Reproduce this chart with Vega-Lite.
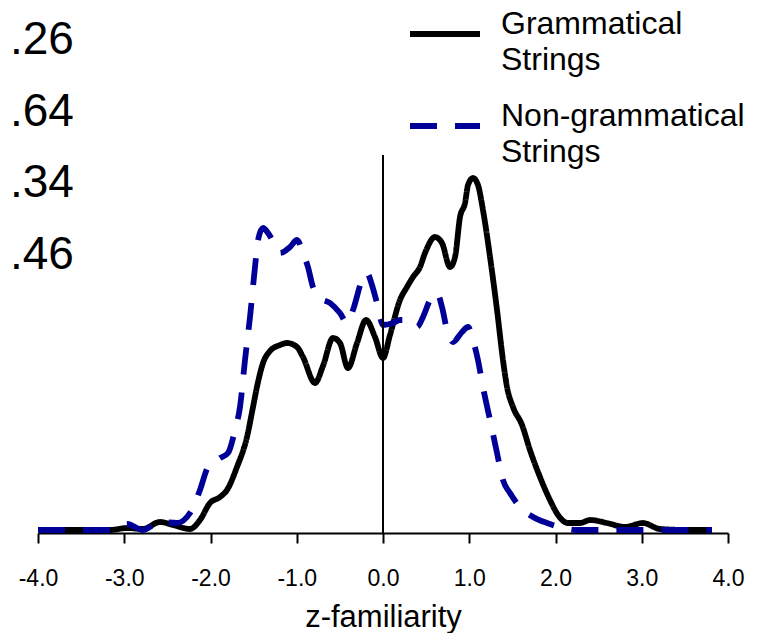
{
  "$schema": "https://vega.github.io/schema/vega-lite/v6.json",
  "width": 690,
  "height": 533,
  "autosize": {"type": "none"},
  "padding": {"left": 38, "top": 0, "right": 31, "bottom": 100},
  "background": "white",
  "config": {"view": {"stroke": null}, "font": "Liberation Sans"},
  "layer": [
    {
      "data": {
        "values": [
          {"series": "Grammatical Strings", "z": -4.0, "density": 0.0},
          {"series": "Grammatical Strings", "z": -3.745, "density": 0.0},
          {"series": "Grammatical Strings", "z": -3.397, "density": 0.0},
          {"series": "Grammatical Strings", "z": -3.165, "density": 0.0},
          {"series": "Grammatical Strings", "z": -2.968, "density": 0.02},
          {"series": "Grammatical Strings", "z": -2.783, "density": 0.01},
          {"series": "Grammatical Strings", "z": -2.586, "density": 0.08},
          {"series": "Grammatical Strings", "z": -2.435, "density": 0.05},
          {"series": "Grammatical Strings", "z": -2.238, "density": 0.01},
          {"series": "Grammatical Strings", "z": -2.122, "density": 0.1},
          {"series": "Grammatical Strings", "z": -2.006, "density": 0.27},
          {"series": "Grammatical Strings", "z": -1.89, "density": 0.33},
          {"series": "Grammatical Strings", "z": -1.809, "density": 0.4},
          {"series": "Grammatical Strings", "z": -1.693, "density": 0.63},
          {"series": "Grammatical Strings", "z": -1.577, "density": 0.93},
          {"series": "Grammatical Strings", "z": -1.507, "density": 1.23},
          {"series": "Grammatical Strings", "z": -1.449, "density": 1.48},
          {"series": "Grammatical Strings", "z": -1.391, "density": 1.67},
          {"series": "Grammatical Strings", "z": -1.31, "density": 1.79},
          {"series": "Grammatical Strings", "z": -1.194, "density": 1.85},
          {"series": "Grammatical Strings", "z": -1.113, "density": 1.87},
          {"series": "Grammatical Strings", "z": -0.997, "density": 1.83},
          {"series": "Grammatical Strings", "z": -0.928, "density": 1.73},
          {"series": "Grammatical Strings", "z": -0.788, "density": 1.47},
          {"series": "Grammatical Strings", "z": -0.696, "density": 1.64},
          {"series": "Grammatical Strings", "z": -0.58, "density": 1.92},
          {"series": "Grammatical Strings", "z": -0.499, "density": 1.87},
          {"series": "Grammatical Strings", "z": -0.406, "density": 1.62},
          {"series": "Grammatical Strings", "z": -0.301, "density": 1.87},
          {"series": "Grammatical Strings", "z": -0.197, "density": 2.1},
          {"series": "Grammatical Strings", "z": -0.093, "density": 1.93},
          {"series": "Grammatical Strings", "z": 0.0, "density": 1.72},
          {"series": "Grammatical Strings", "z": 0.081, "density": 1.95},
          {"series": "Grammatical Strings", "z": 0.197, "density": 2.3},
          {"series": "Grammatical Strings", "z": 0.278, "density": 2.43},
          {"series": "Grammatical Strings", "z": 0.348, "density": 2.53},
          {"series": "Grammatical Strings", "z": 0.429, "density": 2.63},
          {"series": "Grammatical Strings", "z": 0.487, "density": 2.77},
          {"series": "Grammatical Strings", "z": 0.603, "density": 2.93},
          {"series": "Grammatical Strings", "z": 0.684, "density": 2.87},
          {"series": "Grammatical Strings", "z": 0.777, "density": 2.63},
          {"series": "Grammatical Strings", "z": 0.835, "density": 2.73},
          {"series": "Grammatical Strings", "z": 0.893, "density": 3.13},
          {"series": "Grammatical Strings", "z": 0.951, "density": 3.27},
          {"series": "Grammatical Strings", "z": 0.986, "density": 3.45},
          {"series": "Grammatical Strings", "z": 1.043, "density": 3.52},
          {"series": "Grammatical Strings", "z": 1.101, "density": 3.45},
          {"series": "Grammatical Strings", "z": 1.159, "density": 3.2},
          {"series": "Grammatical Strings", "z": 1.241, "density": 2.73},
          {"series": "Grammatical Strings", "z": 1.322, "density": 2.2},
          {"series": "Grammatical Strings", "z": 1.391, "density": 1.7},
          {"series": "Grammatical Strings", "z": 1.438, "density": 1.43},
          {"series": "Grammatical Strings", "z": 1.507, "density": 1.23},
          {"series": "Grammatical Strings", "z": 1.612, "density": 1.05},
          {"series": "Grammatical Strings", "z": 1.704, "density": 0.8},
          {"series": "Grammatical Strings", "z": 1.82, "density": 0.53},
          {"series": "Grammatical Strings", "z": 1.936, "density": 0.3},
          {"series": "Grammatical Strings", "z": 2.029, "density": 0.15},
          {"series": "Grammatical Strings", "z": 2.145, "density": 0.07},
          {"series": "Grammatical Strings", "z": 2.284, "density": 0.07},
          {"series": "Grammatical Strings", "z": 2.4, "density": 0.1},
          {"series": "Grammatical Strings", "z": 2.597, "density": 0.07},
          {"series": "Grammatical Strings", "z": 2.806, "density": 0.03},
          {"series": "Grammatical Strings", "z": 3.014, "density": 0.07},
          {"series": "Grammatical Strings", "z": 3.212, "density": 0.01},
          {"series": "Grammatical Strings", "z": 3.559, "density": 0.0},
          {"series": "Grammatical Strings", "z": 3.814, "density": 0.0},
          {"series": "Non-grammatical Strings", "z": -4.0, "density": 0.0},
          {"series": "Non-grammatical Strings", "z": -3.165, "density": 0.0},
          {"series": "Non-grammatical Strings", "z": -2.968, "density": 0.06},
          {"series": "Non-grammatical Strings", "z": -2.783, "density": 0.0},
          {"series": "Non-grammatical Strings", "z": -2.586, "density": 0.08},
          {"series": "Non-grammatical Strings", "z": -2.388, "density": 0.07},
          {"series": "Non-grammatical Strings", "z": -2.238, "density": 0.17},
          {"series": "Non-grammatical Strings", "z": -2.122, "density": 0.4},
          {"series": "Non-grammatical Strings", "z": -2.029, "density": 0.63},
          {"series": "Non-grammatical Strings", "z": -1.89, "density": 0.72},
          {"series": "Non-grammatical Strings", "z": -1.797, "density": 0.77},
          {"series": "Non-grammatical Strings", "z": -1.716, "density": 1.0},
          {"series": "Non-grammatical Strings", "z": -1.658, "density": 1.23},
          {"series": "Non-grammatical Strings", "z": -1.6, "density": 1.7},
          {"series": "Non-grammatical Strings", "z": -1.542, "density": 2.13},
          {"series": "Non-grammatical Strings", "z": -1.484, "density": 2.63},
          {"series": "Non-grammatical Strings", "z": -1.449, "density": 2.9},
          {"series": "Non-grammatical Strings", "z": -1.391, "density": 3.02},
          {"series": "Non-grammatical Strings", "z": -1.333, "density": 2.97},
          {"series": "Non-grammatical Strings", "z": -1.252, "density": 2.85},
          {"series": "Non-grammatical Strings", "z": -1.194, "density": 2.77},
          {"series": "Non-grammatical Strings", "z": -1.078, "density": 2.83},
          {"series": "Non-grammatical Strings", "z": -0.997, "density": 2.9},
          {"series": "Non-grammatical Strings", "z": -0.928, "density": 2.77},
          {"series": "Non-grammatical Strings", "z": -0.87, "density": 2.63},
          {"series": "Non-grammatical Strings", "z": -0.812, "density": 2.43},
          {"series": "Non-grammatical Strings", "z": -0.73, "density": 2.32},
          {"series": "Non-grammatical Strings", "z": -0.614, "density": 2.27},
          {"series": "Non-grammatical Strings", "z": -0.499, "density": 2.17},
          {"series": "Non-grammatical Strings", "z": -0.417, "density": 2.07},
          {"series": "Non-grammatical Strings", "z": -0.348, "density": 2.2},
          {"series": "Non-grammatical Strings", "z": -0.243, "density": 2.5},
          {"series": "Non-grammatical Strings", "z": -0.186, "density": 2.57},
          {"series": "Non-grammatical Strings", "z": -0.128, "density": 2.45},
          {"series": "Non-grammatical Strings", "z": -0.07, "density": 2.27},
          {"series": "Non-grammatical Strings", "z": 0.0, "density": 2.05},
          {"series": "Non-grammatical Strings", "z": 0.116, "density": 2.07},
          {"series": "Non-grammatical Strings", "z": 0.197, "density": 2.1},
          {"series": "Non-grammatical Strings", "z": 0.278, "density": 2.1},
          {"series": "Non-grammatical Strings", "z": 0.394, "density": 2.03},
          {"series": "Non-grammatical Strings", "z": 0.464, "density": 2.13},
          {"series": "Non-grammatical Strings", "z": 0.545, "density": 2.3},
          {"series": "Non-grammatical Strings", "z": 0.626, "density": 2.37},
          {"series": "Non-grammatical Strings", "z": 0.684, "density": 2.23},
          {"series": "Non-grammatical Strings", "z": 0.742, "density": 2.0},
          {"series": "Non-grammatical Strings", "z": 0.812, "density": 1.88},
          {"series": "Non-grammatical Strings", "z": 0.916, "density": 1.98},
          {"series": "Non-grammatical Strings", "z": 0.986, "density": 2.03},
          {"series": "Non-grammatical Strings", "z": 1.043, "density": 1.9},
          {"series": "Non-grammatical Strings", "z": 1.101, "density": 1.7},
          {"series": "Non-grammatical Strings", "z": 1.159, "density": 1.43},
          {"series": "Non-grammatical Strings", "z": 1.241, "density": 1.1},
          {"series": "Non-grammatical Strings", "z": 1.322, "density": 0.77},
          {"series": "Non-grammatical Strings", "z": 1.391, "density": 0.5},
          {"series": "Non-grammatical Strings", "z": 1.472, "density": 0.37},
          {"series": "Non-grammatical Strings", "z": 1.588, "density": 0.23},
          {"series": "Non-grammatical Strings", "z": 1.739, "density": 0.13},
          {"series": "Non-grammatical Strings", "z": 1.901, "density": 0.07},
          {"series": "Non-grammatical Strings", "z": 2.087, "density": 0.02},
          {"series": "Non-grammatical Strings", "z": 2.249, "density": 0.0},
          {"series": "Non-grammatical Strings", "z": 3.096, "density": 0.0},
          {"series": "Non-grammatical Strings", "z": 3.814, "density": 0.0}
        ]
      },
      "mark": {"type": "line", "interpolate": "monotone", "strokeWidth": 5.8},
      "encoding": {
        "x": {
          "field": "z",
          "type": "quantitative",
          "scale": {"domain": [-4, 4], "nice": false, "zero": false},
          "axis": {
            "values": [-4, -3, -2, -1, 0, 1, 2, 3, 4],
            "labelExpr": "(datum.value < 0 ? '-' : '') + format(abs(datum.value), '.1f')",
            "title": "z-familiarity",
            "grid": false,
            "domainColor": "black",
            "domainWidth": 2,
            "tickColor": "black",
            "tickWidth": 2,
            "tickSize": 10,
            "labelFont": "Liberation Sans",
            "labelFontSize": 23,
            "labelColor": "black",
            "labelPadding": 24,
            "labelFlush": false,
            "labelOverlap": false,
            "titleFont": "Liberation Sans",
            "titleFontSize": 31,
            "titleFontWeight": "normal",
            "titleColor": "black",
            "titlePadding": 12
          }
        },
        "y": {
          "field": "density",
          "type": "quantitative",
          "scale": {"domain": [-0.03, 5.3], "nice": false, "zero": false},
          "axis": null
        },
        "color": {
          "field": "series",
          "type": "nominal",
          "scale": {"domain": ["Grammatical Strings", "Non-grammatical Strings"], "range": ["#000000", "#000099"]},
          "legend": {
            "orient": "none",
            "legendX": 369,
            "legendY": -4,
            "title": null,
            "direction": "vertical",
            "symbolType": "stroke",
            "symbolSize": 4900,
            "symbolStrokeWidth": 5.8,
            "labelFont": "Liberation Sans",
            "labelFontSize": 32,
            "labelColor": "black",
            "labelLimit": 0,
            "labelOffset": 18,
            "labelBaseline": "alphabetic",
            "labelExpr": "split(datum.label, ' ')",
            "rowPadding": 12,
            "encode": {
              "symbols": {"update": {"stroke": [{"test": "datum.value === 'Non-grammatical Strings'", "value": "#2a10ee"}, {"value": "#000000"}]}},
              "labels": {"update": {"lineHeight": {"value": 36}}}
            }
          }
        },
        "strokeDash": {
          "field": "series",
          "type": "nominal",
          "scale": {"domain": ["Grammatical Strings", "Non-grammatical Strings"], "range": [[1, 0], [27, 18]]},
          "legend": {
            "orient": "none",
            "legendX": 369,
            "legendY": -4,
            "title": null,
            "direction": "vertical",
            "symbolType": "stroke",
            "symbolSize": 4900,
            "symbolStrokeWidth": 5.8,
            "labelFont": "Liberation Sans",
            "labelFontSize": 32,
            "labelColor": "black",
            "labelLimit": 0,
            "labelOffset": 18,
            "labelBaseline": "alphabetic",
            "labelExpr": "split(datum.label, ' ')",
            "rowPadding": 12,
            "encode": {
              "symbols": {"update": {"stroke": [{"test": "datum.value === 'Non-grammatical Strings'", "value": "#2a10ee"}, {"value": "#000000"}]}},
              "labels": {"update": {"lineHeight": {"value": 36}}}
            }
          }
        }
      }
    },
    {
      "data": {"values": [{"line": "zero"}]},
      "mark": {"type": "rule", "color": "black", "strokeWidth": 2},
      "encoding": {
        "x": {"datum": 0, "scale": {"domain": [-4, 4], "nice": false, "zero": false}},
        "y": {"datum": -0.03, "scale": {"domain": [-0.03, 5.3], "nice": false, "zero": false}, "axis": null},
        "y2": {"datum": 3.75}
      }
    },
    {
      "data": {
        "values": [
          {"label": ".26", "order": 1},
          {"label": ".64", "order": 2},
          {"label": ".34", "order": 3},
          {"label": ".46", "order": 4}
        ]
      },
      "mark": {"type": "text", "align": "left", "baseline": "alphabetic", "fontSize": 46, "font": "Liberation Sans", "color": "black"},
      "encoding": {
        "x": {"datum": -4.325, "scale": {"domain": [-4, 4], "nice": false, "zero": false}},
        "y": {"field": "order", "type": "quantitative", "scale": {"domain": [0.2465, 7.684], "reverse": true, "nice": false, "zero": false}, "axis": null},
        "text": {"field": "label"}
      }
    }
  ],
  "resolve": {"scale": {"y": "independent"}}
}
